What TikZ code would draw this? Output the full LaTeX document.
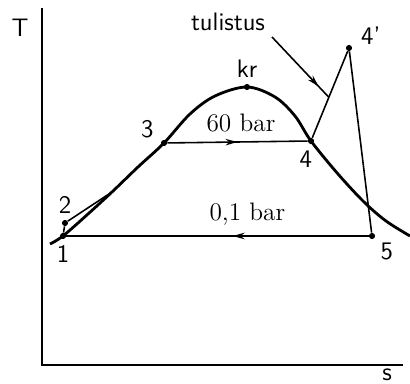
\documentclass[tikz,border=0pt]{standalone}
\usepackage{tikz}
\usetikzlibrary{arrows.meta, positioning, calc, decorations.markings}

\begin{document}
\begin{tikzpicture}[x=0.02cm, y=-0.02cm,
  font=\Large\sffamily,
  dot/.style={circle, fill, inner sep=0pt, minimum size=3.5pt},
  axis/.style={line width=1.3pt},
  dome/.style={line width=1.6pt},
  proc/.style={line width=0.9pt},
  midarrow/.style={postaction={decorate}, decoration={markings,
      mark=at position #1 with {\arrow{Stealth[length=2.4mm,width=1.3mm]}}}},
  midarrow/.default=0.5
]
\useasboundingbox (0,0) rectangle (410,384);

% axes
\coordinate (o) at (42,365);
\draw[axis] (42,8) -- (o) -- (403,365);
\node (tlab) at (20,28) {T};
\node[anchor=north, inner sep=1pt] (slab) at (387,367) {s};

% state points
\foreach \n/\x/\y in {p1/63/236, p2/65/223, p3/164/143, p4/311/141,
                      p4s/349/48, p5/372/236, kr/247/87}
  \node[dot] (\n) at (\x,\y) {};

\node[below=0pt of p1] {1};
\node[above=0pt of p2] {2};
\node[above left=-2pt and 1pt of p3] {3};
\node[below=0pt of p4, xshift=-3pt] {4};
\node[above right=-3pt and 2pt of p4s] {4'};
\node[below right=-1pt and 0pt of p5] {5};
\node[above=0pt of kr] {kr};

% saturation dome
\draw[dome] plot[smooth, tension=0.55] coordinates {(50,244) (63,236) (88,214)
  (112,192) (138,167) (164,143) (190,114) (215,96) (247,87) (275,97) (295,116)
  (311,141) (338,174) (364,202) (386,221) (410,236)};

% process lines
\coordinate (j) at (112,192);
\draw[proc] (p1) -- (p2) -- (j);
\draw[proc, midarrow] (p3) -- node[above=2pt, font=\Large\rmfamily, xshift=2pt] {60 bar} (p4);
\draw[proc] (p4) -- (p4s) -- (p5);
\draw[proc, midarrow=0.45] (p5) -- node[above=2pt, font=\Large\rmfamily, xshift=17pt] {0,1 bar} (p1);

% superheating label
\node (tul) at (228,22) {tulistus};
\coordinate (tulend) at ($(p4)!0.47!(p4s)$);
\draw[proc, midarrow=0.82] (272,37) -- (tulend);
\end{tikzpicture}
\end{document}
